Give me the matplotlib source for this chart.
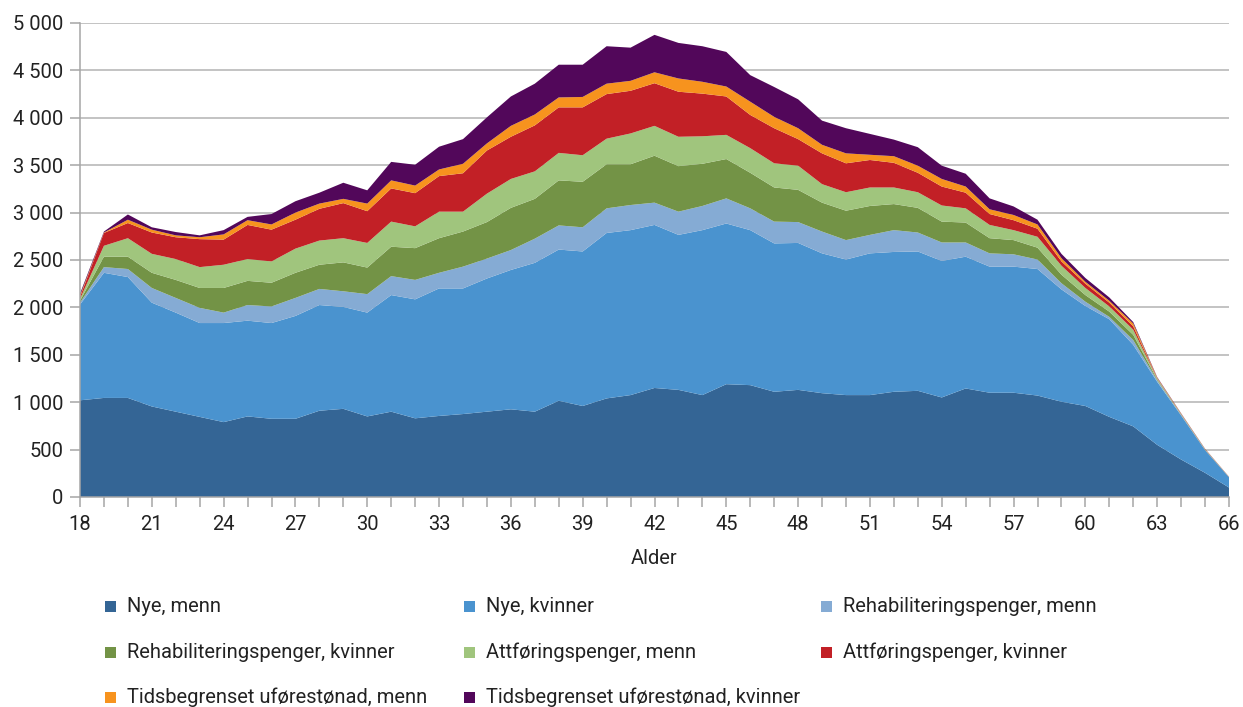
import matplotlib
matplotlib.use("Agg")
import matplotlib.pyplot as plt
from matplotlib.patches import Rectangle
from matplotlib.ticker import FuncFormatter, MultipleLocator
import numpy as np

plt.rcParams["font.family"] = ["Roboto", "DejaVu Sans"]

ages = list(range(18, 67))

nye_menn = [1020, 1045, 1045, 955, 900, 845, 790, 850, 825, 825, 910, 930, 850, 900, 830, 855, 875,
            900, 925, 900, 1015, 960, 1040, 1075, 1150, 1130, 1075, 1190, 1180, 1110, 1130, 1095,
            1075, 1075, 1110, 1120, 1050, 1145, 1100, 1100, 1070, 1005, 960, 845, 745, 550, 395, 255, 100]
nye_kvinner = [1010, 1320, 1275, 1095, 1045, 990, 1045, 1010, 1010, 1085, 1115, 1075, 1095, 1230, 1255,
               1345, 1325, 1405, 1470, 1570, 1595, 1630, 1745, 1740, 1720, 1635, 1740, 1695, 1635, 1565,
               1550, 1475, 1430, 1495, 1475, 1470, 1440, 1390, 1330, 1330, 1335, 1185, 1055, 1030, 860,
               665, 465, 240, 108]
rehab_menn = [20, 60, 85, 155, 155, 160, 110, 165, 175, 190, 170, 165, 195, 200, 205, 165, 230, 210, 210,
              255, 255, 255, 260, 265, 235, 245, 255, 265, 230, 230, 220, 230, 205, 195, 230, 200, 195,
              150, 140, 130, 100, 65, 45, 25, 50, 15, 6, 3, 1]
rehab_kvinner = [20, 110, 130, 160, 190, 210, 260, 255, 250, 265, 255, 305, 280, 310, 335, 365, 370, 385,
                 445, 420, 475, 480, 465, 430, 495, 480, 445, 415, 375, 360, 340, 305, 310, 305, 275, 260,
                 220, 210, 160, 150, 125, 90, 70, 55, 55, 10, 4, 3, 1]
attf_menn = [20, 115, 195, 200, 220, 220, 245, 230, 225, 255, 255, 255, 260, 265, 230, 280, 210, 300, 305,
             290, 290, 280, 270, 325, 315, 310, 290, 255, 260, 255, 255, 195, 195, 195, 175, 165, 170, 150,
             140, 105, 115, 95, 75, 55, 55, 10, 4, 2, 1]
attf_kvinner = [20, 135, 160, 225, 230, 295, 265, 360, 335, 305, 335, 370, 335, 350, 350, 375, 405, 455,
                445, 485, 480, 505, 470, 450, 450, 475, 450, 405, 350, 370, 280, 325, 305, 290, 260, 205,
                200, 165, 115, 105, 85, 45, 45, 40, 35, 5, 3, 2, 1]
tids_menn = [15, 5, 35, 30, 20, 20, 55, 50, 55, 75, 55, 45, 80, 85, 80, 70, 100, 75, 115, 115, 105, 110,
             110, 105, 115, 140, 125, 105, 140, 120, 115, 90, 105, 55, 70, 75, 80, 65, 50, 55, 45, 35, 20,
             20, 30, 5, 3, 2, 1]
tids_kvinner = [20, 10, 55, 25, 35, 20, 45, 35, 110, 120, 115, 170, 140, 195, 220, 240, 260, 275, 310, 325,
                345, 340, 395, 350, 395, 375, 375, 365, 280, 315, 305, 255, 265, 220, 175, 195, 140, 135,
                115, 90, 50, 45, 40, 35, 15, 5, 3, 2, 1]

labels = ["Nye, menn", "Nye, kvinner", "Rehabiliteringspenger, menn",
          "Rehabiliteringspenger, kvinner", "Attføringspenger, menn", "Attføringspenger, kvinner",
          "Tidsbegrenset uførestønad, menn", "Tidsbegrenset uførestønad, kvinner"]
colors = ["#346595", "#4a93cf", "#85abd4", "#739346", "#a0c57d", "#c22026", "#f7931e", "#52075a"]

W, H = 1243, 707
fig = plt.figure(figsize=(W / 100, H / 100), dpi=100)
ax = fig.add_axes([80 / W, 1 - 497 / H, (1229 - 80) / W, (497 - 23) / H])

series = [nye_menn, nye_kvinner, rehab_menn, rehab_kvinner, attf_menn, attf_kvinner, tids_menn, tids_kvinner]
ax.stackplot(ages, np.array(series), colors=colors, linewidth=0)

ax.set_xlim(18, 66)
ax.set_ylim(0, 5000)
ax.xaxis.set_major_locator(MultipleLocator(3))
ax.xaxis.set_minor_locator(MultipleLocator(1))
ax.yaxis.set_major_locator(MultipleLocator(500))
ax.yaxis.set_major_formatter(FuncFormatter(lambda v, p: f"{int(v):,}".replace(",", " ")))

grey = "#a6a6a6"
fs = 14.5
ax.set_axisbelow(True)
ax.grid(axis="y", color="#b3b3b3", linewidth=1.1)
for s in ["top", "right"]:
    ax.spines[s].set_visible(False)
for s in ["left", "bottom"]:
    ax.spines[s].set_color(grey)
    ax.spines[s].set_linewidth(1.1)
ax.tick_params(axis="both", which="both", color=grey, width=1.1, length=7,
               labelsize=fs, labelcolor="#222222")
ax.tick_params(axis="y", pad=5)
ax.tick_params(axis="x", pad=6)
ax.set_xlabel("Alder", fontsize=fs, color="#222222", labelpad=11)

# legend laid out by hand in three columns, row by row
col_x = [105, 464, 821]
row_y = [606, 652, 697]
for i, (lab, col) in enumerate(zip(labels, colors)):
    cx, cy = col_x[i % 3], row_y[i // 3]
    fig.add_artist(Rectangle((cx / W, 1 - (cy + 6) / H), 11 / W, 11 / H,
                             transform=fig.transFigure, color=col, linewidth=0))
    fig.text((cx + 22) / W, 1 - cy / H, lab, fontsize=fs, color="#222222",
             ha="left", va="center")

fig.savefig("out.png", dpi=100)
